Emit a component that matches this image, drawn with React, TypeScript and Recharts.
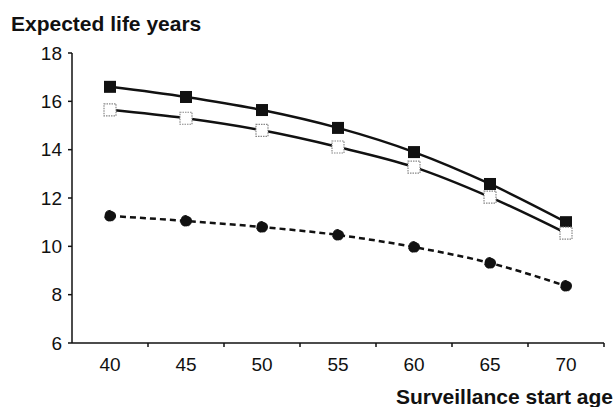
import { LineChart, Line, XAxis, YAxis } from "recharts"

const ages = [40, 45, 50, 55, 60, 65, 70]
const filledSquares = [16.6, 16.18, 15.64, 14.9, 13.9, 12.58, 11.0]
const openSquares = [15.65, 15.3, 14.8, 14.11, 13.28, 12.04, 10.55]
const circles = [11.26, 11.05, 10.8, 10.47, 9.97, 9.31, 8.36]

const yTicks = [6, 8, 10, 12, 14, 16, 18]
// category edges get a small tick mark, centers get the label
const xTicks = [40, 42.5, 45, 47.5, 50, 52.5, 55, 57.5, 60, 62.5, 65, 67.5, 70, 72.5]

const data = ages.map((age, i) => ({
  age,
  filled: filledSquares[i],
  open: openSquares[i],
  circle: circles[i]
}))

const font = "'Liberation Sans', Arial, Helvetica, sans-serif"

const XTick = (props: any) => {
  const { x, y, payload } = props
  if (payload.value % 5 !== 0) {
    return <line x1={x} x2={x} y1={y} y2={y + 4} stroke="#111" strokeWidth={1.5} />
  }
  return (
    <text x={x} y={y + 15} dy="0.71em" textAnchor="middle" fontSize={19} fontFamily={font} fill="#111">
      {payload.value}
    </text>
  )
}

const FilledSquare = (props: any) => {
  const { cx, cy } = props
  return <rect x={cx - 6} y={cy - 6} width={12} height={12} fill="#111" />
}

const OpenSquare = (props: any) => {
  const { cx, cy } = props
  return (
    <rect
      x={cx - 6}
      y={cy - 6}
      width={12}
      height={12}
      fill="#fff"
      stroke="#888"
      strokeWidth={1.2}
      strokeDasharray="1.5 1"
    />
  )
}

export default function App() {
  return (
    <div style={{ position: "absolute", left: 0, top: 0, width: 616, height: 407, background: "#fff", fontFamily: font }}>
      <div style={{ position: "absolute", left: 11, top: 13, fontSize: 21, fontWeight: "bold", lineHeight: 1, color: "#111" }}>
        Expected life years
      </div>
      <div style={{ position: "absolute", right: 3, top: 386, fontSize: 21, fontWeight: "bold", lineHeight: 1, color: "#111" }}>
        Surveillance start age
      </div>

      <LineChart width={616} height={407} data={data} margin={{ top: 53, right: 12, left: 0, bottom: 24 }}>
        <XAxis
          dataKey="age"
          type="number"
          domain={[37.5, 72.5]}
          ticks={xTicks}
          interval={0}
          tick={<XTick />}
          tickLine={false}
          tickSize={0}
          tickMargin={0}
          height={40}
          axisLine={{ stroke: "#111", strokeWidth: 1.5 }}
        />
        <YAxis
          domain={[6, 18]}
          ticks={yTicks}
          interval={0}
          width={72}
          tickSize={4}
          tickMargin={6}
          tick={{ fontSize: 19, fontFamily: font, fill: "#111" }}
          tickLine={{ stroke: "#111", strokeWidth: 1.5 }}
          axisLine={{ stroke: "#111", strokeWidth: 1.5 }}
        />
        <Line
          type="monotone"
          dataKey="filled"
          stroke="#111"
          strokeWidth={2.5}
          dot={<FilledSquare />}
          isAnimationActive={false}
        />
        <Line
          type="monotone"
          dataKey="open"
          stroke="#111"
          strokeWidth={2.5}
          dot={<OpenSquare />}
          isAnimationActive={false}
        />
        <Line
          type="monotone"
          dataKey="circle"
          stroke="#111"
          strokeWidth={2.5}
          strokeDasharray="6 4"
          dot={{ r: 5.5, fill: "#111", stroke: "#111", strokeWidth: 1 }}
          isAnimationActive={false}
        />
      </LineChart>
    </div>
  )
}
